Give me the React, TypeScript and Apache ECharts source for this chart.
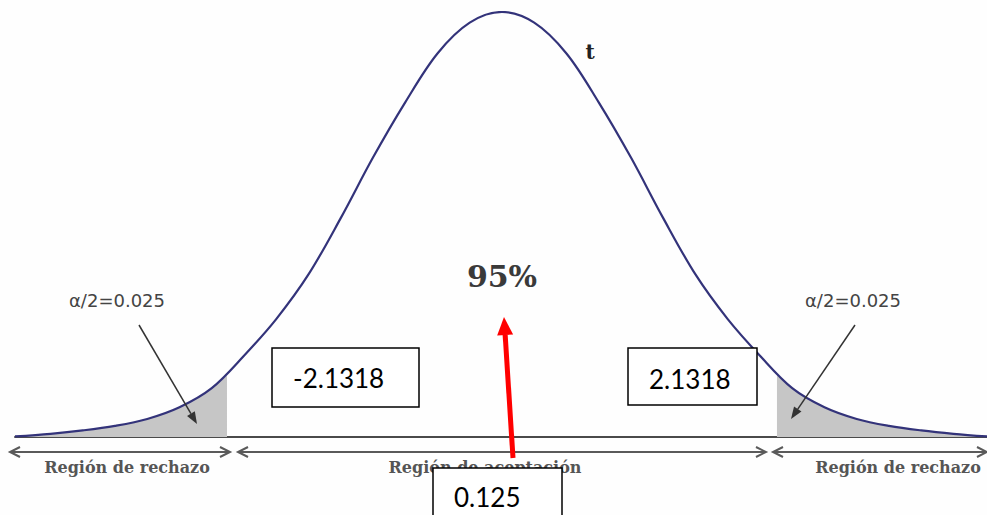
import React, { useEffect, useRef } from "react";
import * as echarts from "echarts";

// ---- data ----
const tValues = [
  -3.775, -3.5, -3.25, -3.0, -2.75, -2.5, -2.25, -2.0, -1.75, -1.5, -1.25, -1.0, -0.75, -0.5, -0.25, 0,
  0.25, 0.5, 0.75, 1.0, 1.25, 1.5, 1.75, 2.0, 2.25, 2.5, 2.75, 3.0, 3.25, 3.5, 3.76,
];
const density = [
  0.0005, 0.003, 0.0062, 0.0105, 0.017, 0.028, 0.046, 0.0765, 0.111, 0.153, 0.206, 0.263, 0.315, 0.361, 0.39, 0.4,
  0.39, 0.361, 0.315, 0.263, 0.206, 0.153, 0.111, 0.0765, 0.046, 0.028, 0.017, 0.0105, 0.0062, 0.003, 0.0005,
];
const criticalValue = 2.1318;
const densityAtCritical = 0.058;
const regionLabels = ["Región de rechazo", "Región de aceptación", "Región de rechazo"];
const boxLabels = ["-2.1318", "2.1318", "0.125"];
const alphaLabel = "α/2=0.025";
const confidenceLabel = "95%";
const curveLabel = "t";

function arrowHead(x1: number, y1: number, x2: number, y2: number, len: number, w: number) {
  const dx = x2 - x1;
  const dy = y2 - y1;
  const d = Math.sqrt(dx * dx + dy * dy);
  const ux = dx / d;
  const uy = dy / d;
  const bx = x2 - ux * len;
  const by = y2 - uy * len;
  const nx = -uy;
  const ny = ux;
  return {
    base: [bx, by],
    points: [
      [x2, y2],
      [bx + (nx * w) / 2, by + (ny * w) / 2],
      [bx - (nx * w) / 2, by - (ny * w) / 2],
    ],
  };
}

function pointerArrow(x1: number, y1: number, x2: number, y2: number, color: string, lw: number, len: number, w: number, z: number) {
  const h = arrowHead(x1, y1, x2, y2, len, w);
  return [
    { type: "line", z, shape: { x1, y1, x2: h.base[0], y2: h.base[1] }, style: { stroke: color, lineWidth: lw } },
    { type: "polygon", z, shape: { points: h.points }, style: { fill: color } },
  ];
}

function doubleArrow(xa: number, xb: number, y: number, z: number) {
  const c = "#5a5a5a";
  return [
    { type: "line", z, shape: { x1: xa, y1: y, x2: xb, y2: y }, style: { stroke: c, lineWidth: 2 } },
    {
      type: "polyline",
      z,
      shape: { points: [[xa + 10, y - 5], [xa, y], [xa + 10, y + 5]] },
      style: { stroke: c, lineWidth: 2, fill: "none" },
    },
    {
      type: "polyline",
      z,
      shape: { points: [[xb - 10, y - 5], [xb, y], [xb - 10, y + 5]] },
      style: { stroke: c, lineWidth: 2, fill: "none" },
    },
  ];
}

function textEl(text: string, x: number, y: number, font: string, fill: string, z: number, align = "center") {
  return {
    type: "text",
    z,
    x,
    y,
    style: {
      text,
      font,
      fill,
      align,
      verticalAlign: "middle",
      textAlign: align,
      textVerticalAlign: "middle",
    },
  };
}

function boxEl(x: number, y: number, w: number, h: number, label: string, ty: number, z: number) {
  return [
    {
      type: "rect",
      z,
      shape: { x, y, width: w, height: h },
      style: { fill: "#ffffff", stroke: "#000000", lineWidth: 1.5 },
    },
    textEl(label, x + 21, ty, "26px Lato, 'Open Sans', sans-serif", "#000000", z + 1, "left"),
  ];
}

export default function App() {
  const ref = useRef<HTMLDivElement>(null);

  useEffect(() => {
    if (!ref.current) return;
    const chart = echarts.init(ref.current, undefined, { renderer: "svg" });

    const curve = tValues.map((t, i) => [t, density[i]]);
    const leftTail = [
      ...curve.filter((p) => p[0] < -criticalValue),
      [-criticalValue, densityAtCritical],
    ];
    const rightTail = [
      [criticalValue, densityAtCritical],
      ...curve.filter((p) => p[0] > criticalValue),
    ];

    const regionFont = "bold 16px 'DejaVu Serif', serif";
    const alphaFont = "18px 'DejaVu Sans', sans-serif";

    const graphic: any[] = [
      textEl(curveLabel, 590, 52, "bold 20px 'DejaVu Serif', serif", "#222222", 10),
      textEl(confidenceLabel, 502, 276, "bold 30px 'DejaVu Serif', serif", "#3a3a3a", 10),
      textEl(alphaLabel, 117, 300, alphaFont, "#444444", 10),
      textEl(alphaLabel, 853, 300, alphaFont, "#444444", 10),
      ...pointerArrow(139, 325, 197, 424, "#333333", 1.5, 12, 9, 10),
      ...pointerArrow(855, 325, 791, 419, "#333333", 1.5, 12, 9, 10),
      ...doubleArrow(10, 230, 452, 10),
      ...doubleArrow(238, 766, 452, 10),
      ...doubleArrow(773, 987, 452, 10),
      textEl(regionLabels[0], 127, 467, regionFont, "#555555", 10),
      textEl(regionLabels[1], 485, 467, regionFont, "#555555", 10),
      textEl(regionLabels[2], 898, 467, regionFont, "#555555", 10),
      ...boxEl(272, 348, 147, 59, boxLabels[0], 378, 20),
      ...boxEl(628, 348, 129, 57, boxLabels[1], 379, 20),
      ...boxEl(433, 468, 129, 60, boxLabels[2], 497, 20),
      ...pointerArrow(513, 458, 504, 317, "#ff0000", 5, 18, 16, 30),
    ];

    chart.setOption({
      animation: false,
      backgroundColor: "#fefefe",
      grid: { left: 15, right: 0, top: 12, bottom: 78 },
      xAxis: {
        type: "value",
        min: -3.775,
        max: 3.76,
        axisLine: { show: true, lineStyle: { color: "#4a4a4a", width: 2 } },
        axisTick: { show: false },
        axisLabel: { show: false },
        splitLine: { show: false },
      },
      yAxis: {
        type: "value",
        min: 0,
        max: 0.4,
        show: false,
        splitLine: { show: false },
      },
      series: [
        {
          type: "line",
          data: leftTail,
          smooth: 0.35,
          symbol: "none",
          lineStyle: { width: 0 },
          areaStyle: { color: "#c6c6c6", opacity: 1 },
          z: 1,
        },
        {
          type: "line",
          data: rightTail,
          smooth: 0.35,
          symbol: "none",
          lineStyle: { width: 0 },
          areaStyle: { color: "#c6c6c6", opacity: 1 },
          z: 1,
        },
        {
          type: "line",
          data: curve,
          smooth: 0.35,
          symbol: "none",
          lineStyle: { color: "#33337a", width: 2.2 },
          z: 3,
        },
      ],
      graphic,
    });

    return () => chart.dispose();
  }, []);

  return (
    <div
      ref={ref}
      style={{ position: "absolute", left: 0, top: 0, width: 987, height: 515, background: "#fefefe" }}
    />
  );
}
